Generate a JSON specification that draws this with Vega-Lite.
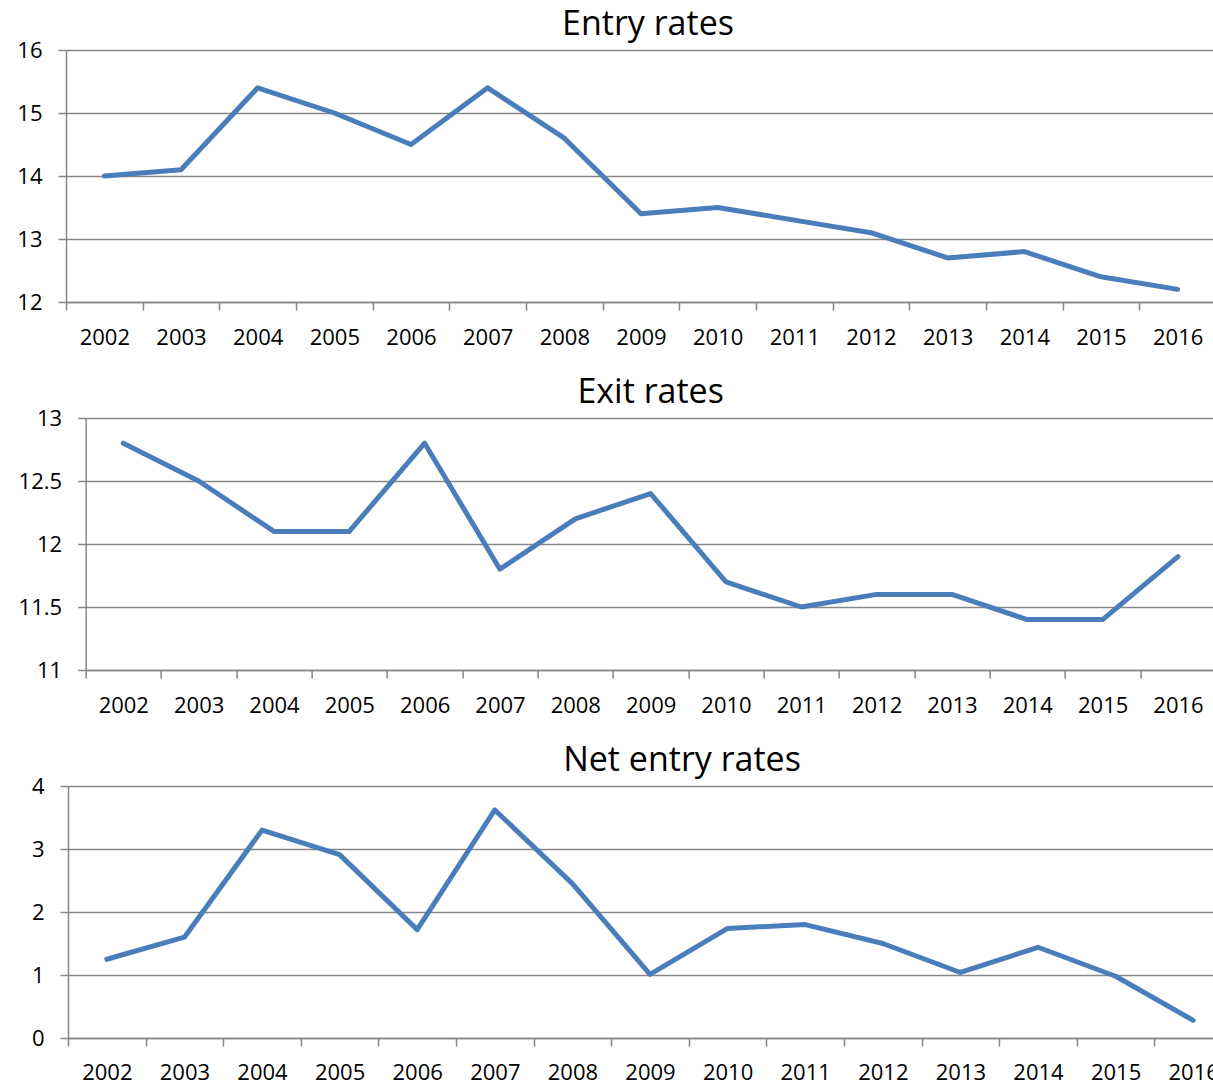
{
  "$schema": "https://vega.github.io/schema/vega-lite/v6.json",
  "padding": {"left": -4, "top": 8, "right": 0, "bottom": 0},
  "background": "white",
  "config": {
    "view": {"stroke": null},
    "font": "Open Sans",
    "axis": {
      "labelFont": "Open Sans",
      "labelFontSize": 22,
      "labelColor": "#000000",
      "domainColor": "#878787",
      "domainWidth": 1.5,
      "tickColor": "#878787",
      "tickWidth": 1.5,
      "tickSize": 8,
      "gridColor": "#878787",
      "gridWidth": 1.5,
      "gridOpacity": 1,
      "title": null
    },
    "title": {"font": "Open Sans", "fontSize": 34, "fontWeight": "normal", "color": "#000000", "anchor": "middle", "offset": -3},
    "line": {"color": "#4A7EBB", "strokeWidth": 5, "strokeJoin": "round", "strokeCap": "round"}
  },
  "datasets": {
    "entry": [
      {"year": "2002", "rate": 14.0}, {"year": "2003", "rate": 14.1}, {"year": "2004", "rate": 15.4},
      {"year": "2005", "rate": 15.0}, {"year": "2006", "rate": 14.5}, {"year": "2007", "rate": 15.4},
      {"year": "2008", "rate": 14.6}, {"year": "2009", "rate": 13.4}, {"year": "2010", "rate": 13.5},
      {"year": "2011", "rate": 13.3}, {"year": "2012", "rate": 13.1}, {"year": "2013", "rate": 12.7},
      {"year": "2014", "rate": 12.8}, {"year": "2015", "rate": 12.4}, {"year": "2016", "rate": 12.2}
    ],
    "exit": [
      {"year": "2002", "rate": 12.8}, {"year": "2003", "rate": 12.5}, {"year": "2004", "rate": 12.1},
      {"year": "2005", "rate": 12.1}, {"year": "2006", "rate": 12.8}, {"year": "2007", "rate": 11.8},
      {"year": "2008", "rate": 12.2}, {"year": "2009", "rate": 12.4}, {"year": "2010", "rate": 11.7},
      {"year": "2011", "rate": 11.5}, {"year": "2012", "rate": 11.6}, {"year": "2013", "rate": 11.6},
      {"year": "2014", "rate": 11.4}, {"year": "2015", "rate": 11.4}, {"year": "2016", "rate": 11.9}
    ],
    "net": [
      {"year": "2002", "rate": 1.25}, {"year": "2003", "rate": 1.6}, {"year": "2004", "rate": 3.3},
      {"year": "2005", "rate": 2.91}, {"year": "2006", "rate": 1.72}, {"year": "2007", "rate": 3.62},
      {"year": "2008", "rate": 2.45}, {"year": "2009", "rate": 1.01}, {"year": "2010", "rate": 1.74},
      {"year": "2011", "rate": 1.8}, {"year": "2012", "rate": 1.5}, {"year": "2013", "rate": 1.04},
      {"year": "2014", "rate": 1.44}, {"year": "2015", "rate": 0.98}, {"year": "2016", "rate": 0.28}
    ]
  },
  "center": true,
  "spacing": 28,
  "vconcat": [
    {
      "title": {"text": "Entry rates", "dx": -3},
      "width": 1170,
      "height": 252,
      "data": {"name": "entry"},
      "mark": {"type": "line"},
      "encoding": {
        "x": {"field": "year", "type": "ordinal", "bandPosition": 0.5,
          "scale": {"type": "band", "paddingInner": 0, "paddingOuter": 0, "range": [0, 1150]},
          "axis": {"tickBand": "extent", "labelAngle": 0, "labelPadding": 17, "grid": false}},
        "y": {"field": "rate", "type": "quantitative",
          "scale": {"domain": [12, 16], "nice": false, "zero": false},
          "axis": {"values": [12, 13, 14, 15, 16], "format": "~g", "grid": true, "labelPadding": 16, "minExtent": 70}}
      }
    },
    {
      "title": {"text": "Exit rates", "dx": 0},
      "width": 1130,
      "height": 252,
      "data": {"name": "exit"},
      "mark": {"type": "line"},
      "encoding": {
        "x": {"field": "year", "type": "ordinal", "bandPosition": 0.5,
          "scale": {"type": "band", "paddingInner": 0, "paddingOuter": 0, "range": [0, 1130]},
          "axis": {"tickBand": "extent", "labelAngle": 0, "labelPadding": 17, "grid": false}},
        "y": {"field": "rate", "type": "quantitative",
          "scale": {"domain": [11, 13], "nice": false, "zero": false},
          "axis": {"values": [11, 11.5, 12, 12.5, 13], "format": "~g", "grid": true, "labelPadding": 16, "minExtent": 70}}
      }
    },
    {
      "title": {"text": "Net entry rates", "dx": 31},
      "width": 1166,
      "height": 252,
      "data": {"name": "net"},
      "mark": {"type": "line"},
      "encoding": {
        "x": {"field": "year", "type": "ordinal", "bandPosition": 0.5,
          "scale": {"type": "band", "paddingInner": 0, "paddingOuter": 0, "range": [0, 1164]},
          "axis": {"tickBand": "extent", "labelAngle": 0, "labelPadding": 16, "grid": false}},
        "y": {"field": "rate", "type": "quantitative",
          "scale": {"domain": [0, 4], "nice": false, "zero": false},
          "axis": {"values": [0, 1, 2, 3, 4], "format": "~g", "grid": true, "labelPadding": 16, "minExtent": 70}}
      }
    }
  ]
}
